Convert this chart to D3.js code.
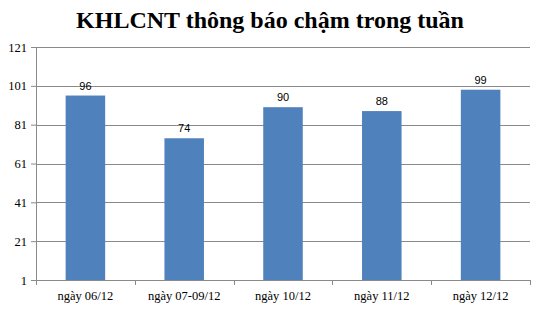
<!DOCTYPE html>
<html lang="vi">
<head>
<meta charset="UTF-8">
<title>KHLCNT thông báo chậm trong tuần</title>
<style>
  body { margin: 0; padding: 0; background: #fff; }
  svg { display: block; }
  .title { font-family: "Liberation Serif", "Times New Roman", serif; font-weight: bold; font-size: 24px; }
  .tick text { font-family: "Liberation Serif", "Times New Roman", serif; font-size: 12.5px; fill: #000; }
  .label { font-family: "Liberation Sans", Arial, sans-serif; font-size: 11px; fill: #000; }
</style>
</head>
<body>
<div id="chart"></div>
<script src="https://d3js.org/d3.v7.min.js"></script>
<script>
  const categories = ["ngày 06/12", "ngày 07-09/12", "ngày 10/12", "ngày 11/12", "ngày 12/12"];
  const values = [96, 74, 90, 88, 99];
  const yTicks = [1, 21, 41, 61, 81, 101, 121];

  const width = 541, height = 310;
  const margin = { top: 47, right: 11, bottom: 30, left: 36 };
  const innerW = width - margin.left - margin.right;
  const innerH = height - margin.top - margin.bottom;

  const svg = d3.select("#chart").append("svg")
    .attr("width", width)
    .attr("height", height);

  svg.append("text")
    .attr("class", "title")
    .attr("x", 270)
    .attr("y", 28)
    .attr("text-anchor", "middle")
    .text("KHLCNT thông báo chậm trong tuần");

  const g = svg.append("g").attr("transform", `translate(${margin.left},${margin.top})`);

  const x = d3.scaleBand().domain(categories).range([0, innerW]).paddingInner(0.6).paddingOuter(0.3);
  const y = d3.scaleLinear().domain([1, 121]).range([innerH, 0]);

  // gridlines
  g.selectAll(".grid")
    .data(yTicks.slice(1))
    .enter().append("line")
    .attr("x1", 0).attr("x2", innerW)
    .attr("y1", d => Math.round(y(d)) + 0.5)
    .attr("y2", d => Math.round(y(d)) + 0.5)
    .attr("stroke", "#8a8a8a");

  // y axis
  const yAxis = g.append("g")
    .call(d3.axisLeft(y).tickValues(yTicks).tickSize(5).tickPadding(4));
  yAxis.select(".domain").attr("stroke", "#8a8a8a");
  yAxis.selectAll(".tick line").attr("stroke", "#8a8a8a");

  // x axis, ticks sit on the band boundaries
  const xAxis = g.append("g").attr("transform", `translate(0,${innerH})`);
  xAxis.append("line")
    .attr("x1", 0).attr("x2", innerW)
    .attr("y1", 0.5).attr("y2", 0.5)
    .attr("stroke", "#8a8a8a");
  const step = innerW / categories.length;
  xAxis.selectAll(".xt")
    .data(d3.range(categories.length + 1))
    .enter().append("line")
    .attr("x1", i => Math.round(i * step) + 0.5)
    .attr("x2", i => Math.round(i * step) + 0.5)
    .attr("y1", 0).attr("y2", 5)
    .attr("stroke", "#8a8a8a");
  xAxis.selectAll(".xl")
    .data(categories)
    .enter().append("text")
    .attr("x", d => x(d) + x.bandwidth() / 2)
    .attr("y", 20)
    .attr("text-anchor", "middle")
    .style("font-family", '"Liberation Serif", "Times New Roman", serif')
    .style("font-size", "12.5px")
    .text(d => d);

  // bars
  g.selectAll(".bar")
    .data(values)
    .enter().append("rect")
    .attr("class", "bar")
    .attr("x", (d, i) => x(categories[i]))
    .attr("y", d => y(d))
    .attr("width", x.bandwidth())
    .attr("height", d => innerH - y(d))
    .attr("fill", "#4f81bd");

  g.selectAll(".label")
    .data(values)
    .enter().append("text")
    .attr("class", "label")
    .attr("x", (d, i) => x(categories[i]) + x.bandwidth() / 2)
    .attr("y", d => y(d) - 6)
    .attr("text-anchor", "middle")
    .text(d => d);
</script>
</body>
</html>
